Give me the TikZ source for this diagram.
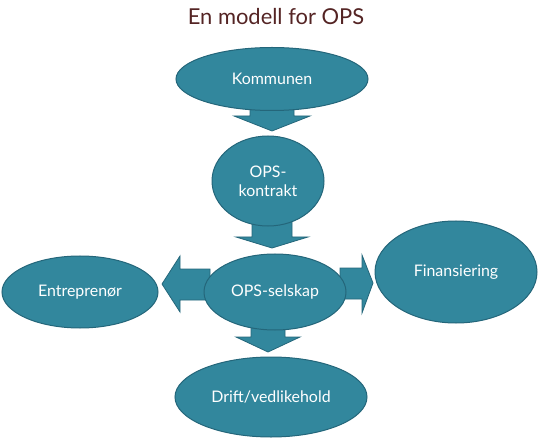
\documentclass[tikz,border=0pt]{standalone}
\usepackage{fontspec}
\setmainfont{Lato}
\usetikzlibrary{shapes.geometric}
\definecolor{tealfill}{RGB}{50,135,157}
\definecolor{tealedge}{RGB}{36,102,122}
\definecolor{titlebrown}{RGB}{84,36,36}
\tikzset{
  bubble/.style={ellipse, draw=tealedge, line width=1bp, fill=tealfill, inner sep=0pt,
     text=white, font=\fontsize{16}{19}\selectfont, align=center},
  blockarrow/.style={draw=tealedge, line width=0.8bp, fill=tealfill, line join=miter}
}
\begin{document}
\begin{tikzpicture}[x=1bp,y=-1bp]
\useasboundingbox (0,0) rectangle (540,442);
% block arrows (behind the ellipses)
\draw[blockarrow] (250,100) -- (294,100) -- (294,116) -- (310,116) -- (272,131) -- (234,116) -- (250,116) -- cycle;
\draw[blockarrow] (252,215) -- (292,215) -- (292,237) -- (308,237) -- (272,248) -- (236,237) -- (252,237) -- cycle;
\draw[blockarrow] (251,320) -- (285,320) -- (285,337) -- (300,337) -- (268,352) -- (236,337) -- (251,337) -- cycle;
\draw[blockarrow] (210,269) -- (180,269) -- (180,256) -- (162,284) -- (180,312) -- (180,300) -- (210,300) -- cycle;
\draw[blockarrow] (340,268) -- (362,268) -- (362,255) -- (373,283) -- (362,313) -- (362,299) -- (340,299) -- cycle;
% title
\node[text=titlebrown, font=\fontsize{22}{26}\selectfont] (title) at (276,17) {En modell for OPS};
% ellipses
\node[bubble, minimum width=192bp, minimum height=63bp] (kom) at (272,79) {Kommunen};
\node[bubble, minimum width=112bp, minimum height=90bp] (kon) at (268,181) {OPS-\\kontrakt};
\node[bubble, minimum width=142bp, minimum height=76bp] (sel) at (275,292) {OPS-selskap};
\node[bubble, minimum width=156bp, minimum height=72bp] (ent) at (80,292) {Entreprenør};
\node[bubble, minimum width=162bp, minimum height=102bp] (fin) at (456,272) {Finansiering};
\node[bubble, minimum width=192bp, minimum height=80bp] (dri) at (271,397) {Drift/vedlikehold};
\end{tikzpicture}
\end{document}
